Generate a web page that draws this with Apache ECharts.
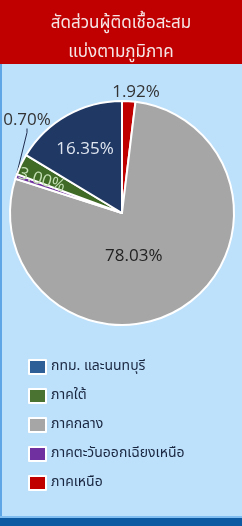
<!DOCTYPE html>
<html>
<head>
<meta charset="utf-8">
<script src="https://cdn.jsdelivr.net/npm/echarts@6/dist/echarts.min.js"></script>
<style>
  html, body { margin: 0; padding: 0; background: #bde0fb; }
  #container { width: 242px; height: 526px; }
</style>
</head>
<body>
<div id="container"></div>
<script>
// ลำดับตามตำแหน่งในวงกลม (ตามเข็มนาฬิกาเริ่มจาก 12 นาฬิกา)
var regionNames = ['ภาคเหนือ', 'ภาคกลาง', 'ภาคตะวันออกเฉียงเหนือ', 'ภาคใต้', 'กทม. และนนทบุรี'];
var regionValues = [1.92, 78.03, 0.70, 3.00, 16.35];
var sliceColors = ['#c00000', '#a6a6a6', '#7030a0', '#3f6b27', '#203864'];
// ลำดับใน legend
var legendNames = ['กทม. และนนทบุรี', 'ภาคใต้', 'ภาคกลาง', 'ภาคตะวันออกเฉียงเหนือ', 'ภาคเหนือ'];
var legendColors = ['#2e5f96', '#4a7332', '#a6a6a6', '#7030a0', '#c00000'];

var labelColors = ['#333', '#222', '#333', '#c5e0b4', '#dfe6f0'];
var labelPos = ['outside', 'inside', 'outside', 'inside', 'inside'];
// เลื่อนป้ายกำกับ
var labelShift = [[0, 0], [-20, -7], [0, 0], [-28, 1], [-8, -12]];

var myChart = echarts.init(document.getElementById('container'));

var pieData = [];
for (var i = 0; i < regionNames.length; i++) {
    pieData.push({
        name: regionNames[i],
        value: regionValues[i],
        itemStyle: { color: sliceColors[i] },
        label: {
            position: labelPos[i],
            color: labelColors[i]
        }
    });
}
pieData[0].labelLine = { show: false };
pieData[2].labelLine = { show: true, length: 4, length2: 4, lineStyle: { color: '#1f2d4d', width: 1 } };
pieData[3].label.rotate = -17;

var legendData = [];
for (var j = 0; j < legendNames.length; j++) {
    legendData.push({ name: legendNames[j], itemStyle: { color: legendColors[j] } });
}

var option = {
    backgroundColor: '#bde0fb',
    animation: false,
    graphic: [
        { type: 'rect', left: 0, top: 0, shape: { width: 242, height: 64 }, style: { fill: '#c00000' } },
        { type: 'rect', left: 0, top: 518, shape: { width: 242, height: 8 }, style: { fill: '#0d5aa3' } },
        { type: 'rect', left: 0, top: 64, shape: { width: 2, height: 454 }, style: { fill: '#5ea6e6' } },
        { type: 'rect', left: 0, top: 516, shape: { width: 242, height: 2 }, style: { fill: '#7fbcef' } }
    ],
    title: {
        text: 'สัดส่วนผู้ติดเชื้อสะสม\nแบ่งตามภูมิภาค',
        left: 'center',
        top: 5,
        textStyle: {
            color: '#f6e6e6',
            fontSize: 17,
            fontWeight: 'normal',
            lineHeight: 29,
            fontFamily: 'Tahoma, "Noto Sans Thai", "Noto Sans", sans-serif'
        }
    },
    legend: {
        orient: 'vertical',
        left: 23,
        top: 354,
        itemWidth: 17,
        itemHeight: 14,
        itemGap: 13,
        icon: 'rect',
        data: legendData,
        textStyle: {
            color: '#1a2740',
            fontSize: 14,
            fontFamily: 'Tahoma, "Noto Sans Thai", "Noto Sans", sans-serif'
        }
    },
    series: [
        {
            type: 'pie',
            center: [122, 213],
            radius: 112,
            startAngle: 90,
            clockwise: true,
            avoidLabelOverlap: false,
            itemStyle: { borderColor: '#fff', borderWidth: 2 },
            label: {
                formatter: function (p) { return p.value.toFixed(2) + '%'; },
                fontSize: 17,
                fontFamily: '"Open Sans", "Liberation Sans", sans-serif'
            },
            labelLayout: function (params) {
                var s = labelShift[params.dataIndex];
                if (params.dataIndex === 0) {
                    return { x: 136, y: 92, align: 'center', verticalAlign: 'middle' };
                }
                if (params.dataIndex === 2) {
                    return { x: 27, y: 120, align: 'center', verticalAlign: 'middle' };
                }
                return { dx: s[0], dy: s[1] };
            },
            data: pieData
        }
    ]
};

myChart.setOption(option);
</script>
</body>
</html>
